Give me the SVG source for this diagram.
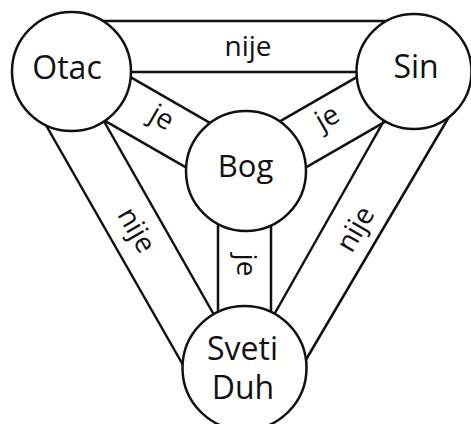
<svg xmlns="http://www.w3.org/2000/svg" width="471" height="424" viewBox="0 0 471 424">
<style>
.ln{stroke:#111;stroke-width:2.5;fill:none;stroke-linecap:butt}
.nd{fill:#fff;stroke:#111;stroke-width:2.5}
.nt{font-family:"Open Sans","DejaVu Sans",sans-serif;font-size:32px;fill:#111;text-anchor:middle}
.lb{font-family:"Open Sans","DejaVu Sans",sans-serif;font-size:28px;fill:#111;text-anchor:middle}
</style>
<rect width="471" height="424" fill="#fff"/>
<g id="connectors">
  <g id="otac-sin">
    <line class="ln" x1="71" y1="21" x2="414" y2="21"/>
    <line class="ln" x1="71" y1="72" x2="414" y2="72"/>
    <text class="lb" x="248" y="56">nije</text>
  </g>
  <g id="otac-bog">
    <line class="ln" x1="71" y1="42.9" x2="246" y2="143.6"/>
    <line class="ln" x1="71" y1="101.3" x2="246" y2="201.9"/>
    <text class="lb" transform="translate(161,119) rotate(30)" x="0" y="7.5">je</text>
  </g>
  <g id="sin-bog">
    <line class="ln" x1="414" y1="44.2" x2="246" y2="140.8"/>
    <line class="ln" x1="414" y1="105.2" x2="246" y2="201.8"/>
    <text class="lb" transform="translate(328,119) rotate(-30)" x="0" y="7.5">je</text>
  </g>
  <g id="bog-duh">
    <line class="ln" x1="218" y1="171" x2="218" y2="368"/>
    <line class="ln" x1="271" y1="171" x2="271" y2="368"/>
    <text class="lb" transform="translate(244,265) rotate(90)" x="0" y="7.5">je</text>
  </g>
  <g id="otac-duh">
    <line class="ln" x1="37.3" y1="110" x2="191.6" y2="380"/>
    <line class="ln" x1="91.9" y1="100" x2="228.3" y2="340"/>
    <text class="lb" transform="translate(135,231) rotate(60)" x="0" y="7.5">nije</text>
  </g>
  <g id="sin-duh">
    <line class="ln" x1="453" y1="110" x2="294" y2="380"/>
    <line class="ln" x1="395.7" y1="100" x2="259.7" y2="340"/>
    <text class="lb" transform="translate(357,230) rotate(-60)" x="0" y="7.5">nije</text>
  </g>
</g>
<g id="otac">
  <circle class="nd" cx="71.5" cy="71.5" r="59.5"/>
  <text class="nt" x="67" y="79">Otac</text>
</g>
<g id="sin">
  <circle class="nd" cx="414" cy="71.5" r="57.5"/>
  <text class="nt" x="416" y="78">Sin</text>
</g>
<g id="bog">
  <circle class="nd" cx="246" cy="171" r="60"/>
  <text class="nt" x="245.5" y="177" style="font-size:31px">Bog</text>
</g>
<g id="sveti-duh">
  <circle class="nd" cx="244.5" cy="368" r="62"/>
  <text class="nt" x="242.5" y="360">Sveti</text>
  <text class="nt" x="243" y="399">Duh</text>
</g>
</svg>
